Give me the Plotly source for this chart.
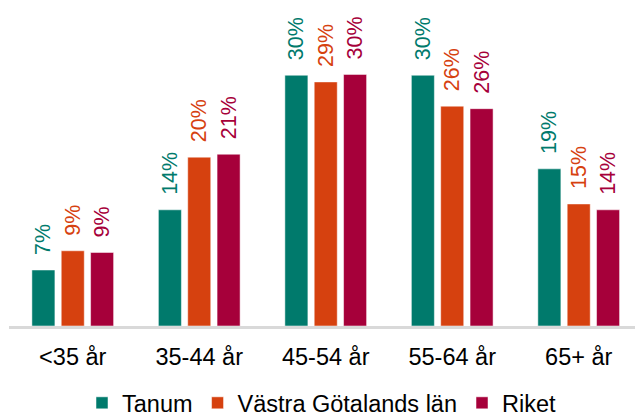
import plotly.graph_objects as go

categories = ["<35 år", "35-44 år", "45-54 år", "55-64 år", "65+ år"]
tanum = [6.7, 13.9, 30.0, 30.0, 18.8]
vgl = [9.0, 20.2, 29.2, 26.3, 14.6]
riket = [8.8, 20.55, 30.1, 26.0, 13.9]
series_names = ["Tanum", "Västra Götalands län", "Riket"]
colors = ["#007A6C", "#D6410F", "#A6003A"]

FONT = "Liberation Sans, Arial, sans-serif"

fig = go.Figure()
for name, vals, col in zip(series_names, [tanum, vgl, riket], colors):
    fig.add_trace(go.Bar(
        x=categories, y=vals, name=name,
        marker=dict(color=col, line=dict(color="rgba(255,255,255,0.5)", width=1)),
        text=["\u00a0\u00a0" + f"{v:.0f}%" for v in vals],
        textposition="outside", textangle=-90, constraintext="none",
        textfont=dict(color=col, size=21.5, family=FONT),
        cliponaxis=False,
    ))

fig.update_layout(
    width=635, height=417,
    barmode="group", bargap=0.304, bargroupgap=0.215,
    plot_bgcolor="white", paper_bgcolor="white",
    margin=dict(l=9, r=0, t=5, b=91, autoexpand=False),
    font=dict(family=FONT, size=23.5, color="#000000"),
    showlegend=True,
    uniformtext=dict(minsize=21.5, mode="show"),
    legend=dict(orientation="h", x=0.5, xanchor="center", yref="paper",
                y=-0.24, yanchor="middle",
                font=dict(size=23.5), itemwidth=30, traceorder="normal",
                tracegroupgap=0, bgcolor="rgba(0,0,0,0)"),
)
fig.update_xaxes(showline=True, linecolor="#D9D9D9", linewidth=2.5, ticks="",
                 tickfont=dict(size=23.5), showgrid=False, range=[-0.504, 4.445],
                 ticklabelstandoff=8, automargin=False)
fig.update_yaxes(range=[0, 38.4], visible=False, showgrid=False)

fig.write_html("out.html", config={"displayModeBar": False},
               post_script="document.body.style.margin='0';")
